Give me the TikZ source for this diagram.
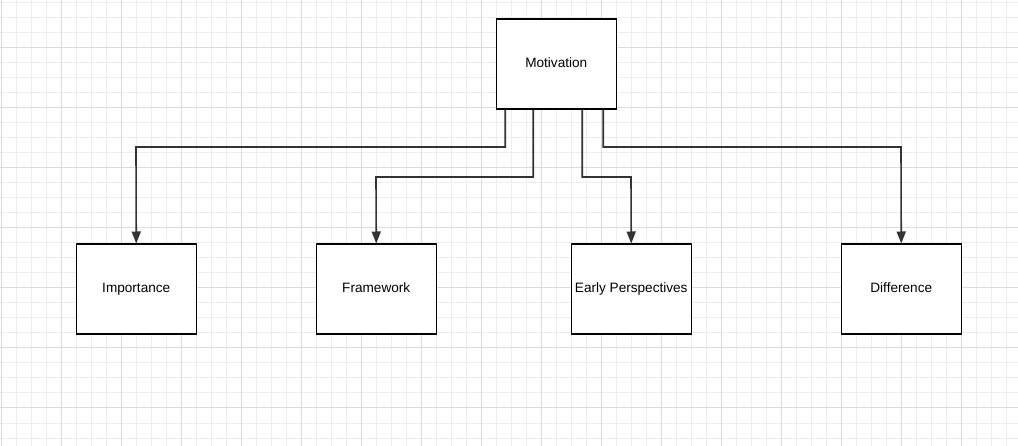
\documentclass[tikz,border=0pt]{standalone}
\usepackage{fontspec}
\setmainfont{Liberation Sans}
\usetikzlibrary{arrows.meta}
\definecolor{minorgrid}{HTML}{EDEDED}
\definecolor{majorgrid}{HTML}{DCDCDC}
\definecolor{wire}{HTML}{333333}
\tikzset{
  box/.style={draw=black, line width=1.5pt, fill=white, minimum width=120pt, minimum height=90pt, inner sep=0pt, text height=10pt, text depth=3pt, font=\fontsize{13.6}{15}\selectfont, anchor=north west},
  wirestyle/.style={draw=wire, line width=1.6pt, -{Triangle[length=12pt,width=9pt]}}
}
\begin{document}
\begin{tikzpicture}[x=1pt,y=-1pt]
\useasboundingbox (0,0) rectangle (1018,446);
\fill[white] (0,0) rectangle (1018,446);
% minor grid
\foreach \i in {1,16,...,1018} \draw[minorgrid, line width=1pt] (\i,0) -- (\i,446);
\foreach \j in {3,18,...,446} \draw[minorgrid, line width=1pt] (0,\j) -- (1018,\j);
% major grid
\foreach \i in {1,61,...,1018} \draw[majorgrid, line width=1pt] (\i,0) -- (\i,446);
\foreach \j in {48,108,...,446} \draw[majorgrid, line width=1pt] (0,\j) -- (1018,\j);

\node[box] (mot) at (495.5,18.5) {Motivation};
\node[box] (imp) at (75.5,243.5) {Importance};
\node[box] (fra) at (315.5,243.5) {Framework};
\node[box] (ear) at (570.5,243.5) {Early Perspectives};
\node[box] (dif) at (840.5,243.5) {Difference};

\draw[wirestyle] ([xshift=-51pt]mot.south) |- (136,147) -- (imp.north);
\draw[wirestyle] ([xshift=-23pt]mot.south) |- (376,177) -- (fra.north);
\draw[wirestyle] ([xshift=26pt]mot.south) |- (631,177) -- (ear.north);
\draw[wirestyle] ([xshift=47pt]mot.south) |- (901,147) -- (dif.north);
\end{tikzpicture}
\end{document}
